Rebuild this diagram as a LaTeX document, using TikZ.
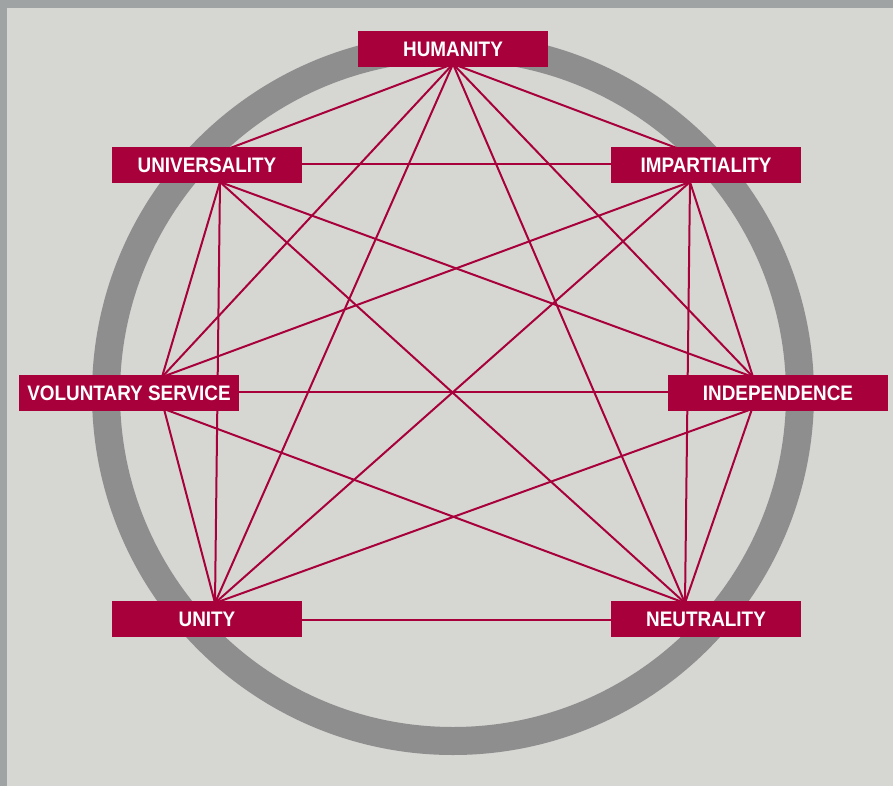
\documentclass[tikz,border=0pt]{standalone}
\usepackage{fontspec}
\setmainfont{Liberation Sans}[FakeStretch=0.9]
\definecolor{bgc}{HTML}{D6D7D2}
\definecolor{edgec}{HTML}{9FA3A4}
\definecolor{ringc}{HTML}{8E8E8E}
\definecolor{redc}{HTML}{A8003B}
\pgfdeclarelayer{back}
\pgfdeclarelayer{mid}
\pgfsetlayers{back,mid,main}
\tikzset{
  label box/.style={fill=redc, text=white, inner sep=0pt, minimum height=36pt,
    font=\fontsize{21}{21}\selectfont\bfseries},
  wide/.style={minimum width=190pt},
  wider/.style={minimum width=220pt},
  link/.style={draw=redc, line width=2pt},
}
\begin{document}
\begin{tikzpicture}[x=1pt,y=-1pt]
\useasboundingbox (0,0) rectangle (893,786);
\begin{pgfonlayer}{back}
  \fill[edgec] (0,0) rectangle (893,786);
  \fill[bgc] (7,8) rectangle (893,786);
  \draw[ringc, line width=28pt] (453,394) circle[radius=347];
\end{pgfonlayer}
% nodes
\node[label box, wide]  (hum) at (453,49)    {HUMANITY};
\node[label box, wide]  (uni) at (207,165.5) {UNIVERSALITY};
\node[label box, wide]  (imp) at (706,165.5) {IMPARTIALITY};
\node[label box, wider] (vol) at (129,393)   {VOLUNTARY SERVICE};
\node[label box, wider] (ind) at (778,393)   {INDEPENDENCE};
\node[label box, wide]  (unt) at (207,619)   {UNITY};
\node[label box, wide]  (neu) at (706,619)   {NEUTRALITY};
% attachment points on the box edges
\coordinate (hB)  at (453,64);
\coordinate (unT) at (225,150);
\coordinate (unB) at (220,182);
\coordinate (imT) at (682,150);
\coordinate (imB) at (690,182);
\coordinate (vT)  at (162,377);
\coordinate (vB)  at (164,409);
\coordinate (inT) at (753,377);
\coordinate (inB) at (752,409);
\coordinate (uT)  at (215,603);
\coordinate (nT)  at (685,603);
\begin{pgfonlayer}{mid}
  \draw[link] ([yshift=1.5pt]uni.east) -- ([yshift=1.5pt]imp.west);
  \draw[link] ([yshift=1pt]vol.east) -- ([yshift=1pt]ind.west);
  \draw[link] ([yshift=-1pt]unt.east) -- ([yshift=-1pt]neu.west);
  \foreach \a/\b in {hB/unT, hB/imT, hB/vT, hB/inT, hB/uT, hB/nT,
                     unB/vT, unB/inT, unB/uT, unB/nT,
                     imB/vT, imB/inT, imB/uT, imB/nT,
                     vB/uT, vB/nT, inB/uT, inB/nT}
    \draw[link] (\a) -- (\b);
\end{pgfonlayer}
\end{tikzpicture}
\end{document}
